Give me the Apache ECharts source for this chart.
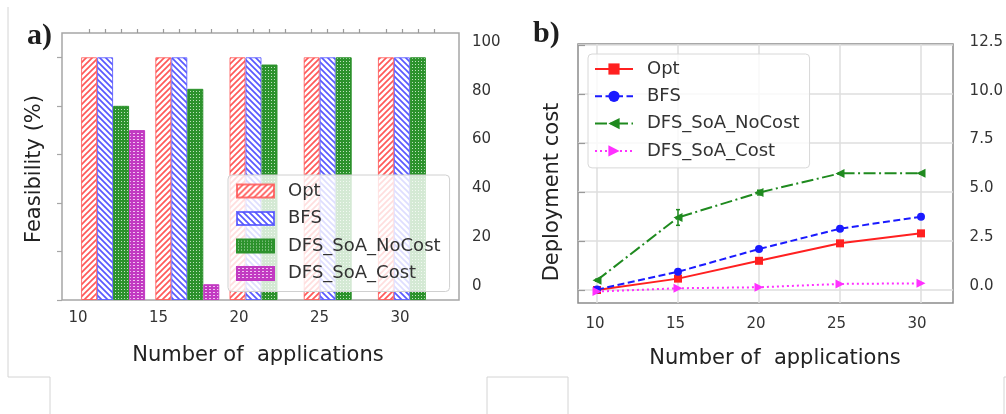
<!DOCTYPE html>
<html>
<head>
<meta charset="utf-8">
<style>html,body{margin:0;padding:0;background:#fff}#chart{width:1006px;height:414px}</style>
<script src="https://cdn.jsdelivr.net/npm/echarts@6/dist/echarts.min.js"></script>
</head>
<body>
<div id="chart"></div>
<script>
// ---- panel a) feasibility (%)
const categories = ['10', '15', '20', '25', '30'];
const feasOpt = [100, 100, 100, 100, 100];
const feasBFS = [100, 100, 100, 100, 100];
const feasNoCost = [80, 87, 97, 100, 100];
const feasCost = [70, 6.5, 0, 0, 0];
const feasTicks = [0, 20, 40, 60, 80, 100];

// ---- panel b) deployment cost
const appCounts = [10, 15, 20, 25, 30];
const costOpt = [0, 0.58, 1.49, 2.38, 2.89];
const costBFS = [0.02, 0.93, 2.09, 3.13, 3.74];
const costNoCost = [0.5, 3.7, 4.97, 5.95, 5.96];
const costNoCostErr = [0.05, 0.4, 0.12, 0.03, 0.03];
const costCost = [-0.08, 0.09, 0.14, 0.31, 0.34];
const costTicks = [0, 2.5, 5, 7.5, 10, 12.5];

const FONT = 'DejaVu Sans';
const chart = echarts.init(document.getElementById('chart'));

// hatch fills for the bars
function stripes(color, up) {
  const s = 6, c = document.createElement('canvas');
  c.width = s; c.height = s;
  const g = c.getContext('2d');
  g.fillStyle = '#fff'; g.fillRect(0, 0, s, s);
  g.strokeStyle = color; g.lineWidth = 1.7;
  g.beginPath();
  if (up) {
    g.moveTo(-1, s + 1); g.lineTo(s + 1, -1);
    g.moveTo(-1, 1); g.lineTo(1, -1);
    g.moveTo(s - 1, s + 1); g.lineTo(s + 1, s - 1);
  } else {
    g.moveTo(-1, -1); g.lineTo(s + 1, s + 1);
    g.moveTo(s - 1, -1); g.lineTo(s + 1, 1);
    g.moveTo(-1, s - 1); g.lineTo(1, s + 1);
  }
  g.stroke();
  return { image: c, repeat: 'repeat' };
}
function holes(fg, bg, w, h, hw, hh) {
  const c = document.createElement('canvas');
  c.width = w; c.height = h;
  const g = c.getContext('2d');
  g.fillStyle = fg; g.fillRect(0, 0, w, h);
  g.fillStyle = bg; g.fillRect(1, 1, hw, hh);
  return { image: c, repeat: 'repeat' };
}

// bar layout: 4 bars of 16px in bands of 371/5 px
const barW = 16, bandW = 371 / categories.length;
const barTicks = [];
categories.forEach((c, i) => {
  for (let j = 0; j < 4; j++) barTicks.push(i + (j - 1.5) * barW / bandW);
});

function barSeries(name, data, fill, border) {
  return {
    name, type: 'bar', xAxisIndex: 1, yAxisIndex: 1,
    // zero-height bars get no outline
    data: data.map(v => v === 0 ? { value: v, itemStyle: { borderWidth: 0 } } : v),
    barWidth: barW, barGap: '0%',
    itemStyle: { color: fill, borderColor: border, borderWidth: 1 },
    emphasis: { disabled: true }
  };
}
function lineSeries(name, data, color, dash, symbol, rot, size) {
  return {
    name: 'b:' + name, type: 'line', xAxisIndex: 9, yAxisIndex: 8,
    data: appCounts.map((x, i) => [x, data[i]]),
    clip: false, symbol, symbolRotate: rot, symbolSize: size,
    lineStyle: { color, width: 2, type: dash },
    itemStyle: { color },
    emphasis: { disabled: true }
  };
}
const hidden = (grid, extra) => Object.assign({ gridIndex: grid, type: 'value', show: false }, extra || {});
const label = { fontFamily: FONT, fontSize: 15, color: '#333' };
const textStyle = (s) => ({ font: '21px ' + FONT, fill: '#222', align: 'center', verticalAlign: 'middle', text: s });
const deco = (x1, y1, x2, y2) => ({ type: 'line', shape: { x1, y1, x2, y2 }, style: { stroke: '#d4d4d4', lineWidth: 1 }, silent: true });

const option = {
  animation: false,
  backgroundColor: '#fff',
  grid: [
    { left: 62, top: 33, width: 397, height: 267, show: true, borderColor: '#a6a6a6', borderWidth: 1.5 }, // 0 frame a
    { left: 76, top: 33, width: 371, height: 267 },   // 1 bars
    { left: 78, top: 33, width: 322, height: 267 },   // 2 x labels a
    { left: 62, top: 42, width: 397, height: 244 },   // 3 right labels a
    { left: 578, top: 44, width: 375, height: 259, show: true, borderColor: '#8c8c8c', borderWidth: 1.5 }, // 4 frame b
    { left: 578, top: 45, width: 375, height: 245 },  // 5 horizontal grid lines
    { left: 597, top: 44, width: 324, height: 259 },  // 6 vertical grid lines
    { left: 595, top: 44, width: 322, height: 259 },  // 7 x labels b
    { left: 597, top: 45, width: 324, height: 245 },  // 8 data b
    { left: 578, top: 42, width: 375, height: 244 }   // 9 right labels b
  ],
  xAxis: [
    hidden(0),
    { gridIndex: 1, type: 'category', data: categories, show: false },
    { gridIndex: 1, type: 'value', min: -0.5, max: 4.5, axisLine: { show: false }, axisLabel: { show: false },
      splitLine: { show: false },
      axisTick: { show: true, length: 4, customValues: barTicks, lineStyle: { color: '#9a9a9a', width: 1.2 } } },
    { gridIndex: 2, type: 'category', data: categories, boundaryGap: false, axisLine: { show: false },
      axisTick: { show: false }, axisLabel: Object.assign({ margin: 11 }, label) },
    hidden(3),
    hidden(4),
    hidden(5),
    { gridIndex: 6, type: 'value', min: 10, max: 30, interval: 5, axisLine: { show: false }, axisTick: { show: false },
      axisLabel: { show: false }, splitLine: { show: true, lineStyle: { color: '#dedede', width: 1.5 } } },
    { gridIndex: 7, type: 'value', min: 10, max: 30, interval: 5, axisLine: { show: false }, axisTick: { show: false },
      splitLine: { show: false }, axisLabel: Object.assign({ margin: 14 }, label) },
    hidden(8, { min: 10, max: 30 }),
    hidden(9)
  ],
  yAxis: [
    { gridIndex: 0, type: 'value', min: 0, max: 110, axisLine: { show: false }, axisLabel: { show: false },
      splitLine: { show: false },
      axisTick: { show: true, length: 5, customValues: feasTicks, lineStyle: { color: '#a6a6a6', width: 1.2 } } },
    hidden(1, { min: 0, max: 110 }),
    hidden(2),
    { gridIndex: 3, type: 'value', position: 'right', min: 0, max: 100, axisLine: { show: false },
      axisTick: { show: false }, splitLine: { show: false },
      axisLabel: Object.assign({ margin: 13, customValues: feasTicks }, label) },
    hidden(4),
    { gridIndex: 5, type: 'value', position: 'right', min: 0, max: 12.5, interval: 2.5, axisLine: { show: false },
      axisLabel: { show: false },
      axisTick: { show: true, length: 7, lineStyle: { color: '#9a9a9a', width: 1.2 } },
      splitLine: { show: true, lineStyle: { color: '#dedede', width: 1.5 } } },
    hidden(6),
    hidden(7),
    hidden(8, { min: 0, max: 12.5 }),
    { gridIndex: 9, type: 'value', position: 'right', min: 0, max: 12.5, axisLine: { show: false },
      axisTick: { show: false }, splitLine: { show: false },
      axisLabel: Object.assign({ margin: 25, customValues: costTicks, formatter: v => v.toFixed(1) }, label) }
  ],
  legend: [
    {
      data: ['Opt', 'BFS', 'DFS_SoA_NoCost', 'DFS_SoA_Cost'],
      orient: 'vertical', left: 228, top: 175, padding: [6, 9, 8, 8],
      itemWidth: 37, itemHeight: 13, itemGap: 7.5, icon: 'rect',
      backgroundColor: 'rgba(255,255,255,0.8)', borderColor: '#d0d0d0', borderWidth: 1, borderRadius: 4,
      textStyle: { fontFamily: FONT, fontSize: 18, color: '#333', lineHeight: 20, padding: [0, 0, 0, 9] },
      selectedMode: false
    },
    {
      data: ['b:Opt', 'b:BFS', 'b:DFS_SoA_NoCost', 'b:DFS_SoA_Cost'],
      formatter: n => n.slice(2),
      orient: 'vertical', left: 588, top: 54, padding: [5, 10, 7, 6],
      itemWidth: 38, itemHeight: 14, itemGap: 7.3,
      backgroundColor: 'rgba(255,255,255,0.8)', borderColor: '#d8d8d8', borderWidth: 1, borderRadius: 4,
      textStyle: { fontFamily: FONT, fontSize: 18, color: '#333', lineHeight: 20, padding: [0, 0, 0, 9] },
      selectedMode: false
    }
  ],
  series: [
    barSeries('Opt', feasOpt, stripes('rgba(255,60,60,0.85)', true), 'rgba(255,80,80,0.8)'),
    barSeries('BFS', feasBFS, stripes('rgba(60,60,255,0.85)', false), 'rgba(80,80,255,0.8)'),
    barSeries('DFS_SoA_NoCost', feasNoCost, holes('#2c922c', '#bfe2bf', 3, 3, 1, 1), '#2c922c'),
    barSeries('DFS_SoA_Cost', feasCost, holes('#c23ac2', '#f0c4f0', 4, 3, 2, 1), '#c23ac2'),
    lineSeries('Opt', costOpt, '#ff2020', 'solid', 'rect', 0, 8),
    lineSeries('BFS', costBFS, '#1a1aff', [7, 3.5], 'circle', 0, 8),
    lineSeries('DFS_SoA_NoCost', costNoCost, '#1f8a1f', [12, 3.5, 2, 3.5], 'triangle', 90, 9),
    lineSeries('DFS_SoA_Cost', costCost, '#ff30ff', [2, 3], 'triangle', -90, 9),
    {
      type: 'custom', xAxisIndex: 9, yAxisIndex: 8, clip: false, silent: true,
      data: appCounts.map((x, i) => [x, costNoCost[i], costNoCostErr[i]]),
      renderItem: (params, api) => {
        const lo = api.coord([api.value(0), api.value(1) - api.value(2)]);
        const hi = api.coord([api.value(0), api.value(1) + api.value(2)]);
        const st = { stroke: '#1f8a1f', lineWidth: 1.5 };
        return { type: 'group', children: [
          { type: 'line', shape: { x1: lo[0], y1: lo[1], x2: hi[0], y2: hi[1] }, style: st },
          { type: 'line', shape: { x1: lo[0] - 2, y1: lo[1], x2: lo[0] + 2, y2: lo[1] }, style: st },
          { type: 'line', shape: { x1: hi[0] - 2, y1: hi[1], x2: hi[0] + 2, y2: hi[1] }, style: st }
        ] };
      }
    }
  ],
  graphic: [
    { type: 'text', x: 27, y: 36, style: { text: 'a)', font: 'bold 30px "Liberation Serif"', fill: '#1e1e1e', verticalAlign: 'middle' } },
    { type: 'text', x: 533, y: 34, style: { text: 'b)', font: 'bold 30px "Liberation Serif"', fill: '#1e1e1e', verticalAlign: 'middle' } },
    { type: 'text', x: 35, y: 169, rotation: Math.PI / 2, style: textStyle('Feasibility (%)') },
    { type: 'text', x: 553, y: 192, rotation: Math.PI / 2, style: textStyle('Deployment cost') },
    { type: 'text', x: 258, y: 356, style: textStyle('Number of  applications') },
    { type: 'text', x: 775, y: 359, style: textStyle('Number of  applications') },
    deco(8, 7, 8, 377), deco(8, 377, 50, 377), deco(50, 377, 50, 414),
    deco(487, 377, 568, 377), deco(487, 377, 487, 414), deco(568, 377, 568, 414),
    deco(1004, 377, 1006, 377), deco(1004, 377, 1004, 414)
  ]
};
chart.setOption(option);
</script>
</body>
</html>
